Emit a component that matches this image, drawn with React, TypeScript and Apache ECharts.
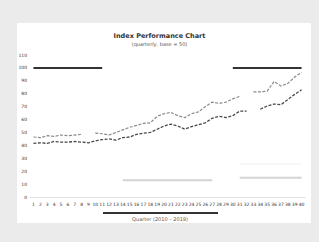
import React, { useEffect, useRef } from "react";
import * as echarts from "echarts";

const categories: string[] = Array.from({ length: 40 }, (_, i) => String(i + 1));

const upperSeries: (number | null)[] = [
  46.5, 46, 47.5, 47, 48, 47.5, 48, 48.5, null, 49.5,
  49, 48, 50, 52, 54, 55.5, 57, 57.5, 62.5, 64.5,
  65.5, 63, 61.5, 64.5, 66, 70, 73.5, 72.5, 73.5, 76,
  78, null, 81.5, 81.5, 82, 89.5, 86, 88, 93, 96.5,
];

const lowerSeries: (number | null)[] = [
  41.5, 42, 41.5, 43, 42.5, 42.5, 43, 42.5, 42, 43.5,
  44.5, 45, 44, 46, 46.5, 48.5, 49.5, 50, 52.5, 55,
  56.5, 55, 52.5, 54.5, 56, 57.5, 61, 62.5, 61.5, 63,
  66.5, 66.5, null, 68, 70.5, 72, 71.5, 75.5, 79.5, 83,
];

// threshold segments: [startIndex, endIndex, value]
const darkSegments: [number, number, number][] = [
  [0, 10, 100],
  [29, 39, 100],
];
const lightSegments: [number, number, number][] = [
  [13, 26, 13],
  [30, 39, 15],
];
const faintSegments: [number, number, number][] = [[30, 39, 25.5]];

const yTicks = { min: 0, max: 110, interval: 10 };

const titleText = "Index Performance Chart";
const subtitleText = "(quarterly, base = 50)";
const footerText = "Quarter (2010 – 2019)";

function segData(seg: [number, number, number]): (number | null)[] {
  return categories.map((_, i) => (i >= seg[0] && i <= seg[1] ? seg[2] : null));
}

export default function App() {
  const ref = useRef<HTMLDivElement>(null);
  useEffect(() => {
    if (!ref.current) return;
    const chart = echarts.init(ref.current, undefined, { renderer: "svg" });
    const segSeries = (segs: [number, number, number][], color: string, width: number, name: string) =>
      segs.map((s, k) => ({
        name: name + k,
        type: "line" as const,
        data: segData(s),
        symbol: "none",
        lineStyle: { color, width },
        silent: true,
        z: 1,
      }));
    chart.setOption({
      animation: false,
      backgroundColor: "#ebebeb",
      graphic: [
        {
          type: "rect",
          shape: { x: 17, y: 23, width: 294, height: 200 },
          style: { fill: "#ffffff" },
          z: -10,
        },
        {
          type: "line",
          shape: { x1: 103, y1: 213, x2: 218, y2: 213 },
          style: { stroke: "#333", lineWidth: 2 },
        },
        {
          type: "text",
          x: 160,
          y: 216,
          style: { text: footerText, fill: "#555", fontSize: 5, align: "center", fontFamily: "DejaVu Sans" },
        },
      ],
      title: {
        text: titleText,
        subtext: subtitleText,
        left: "center",
        top: 27,
        itemGap: 2,
        textStyle: { fontSize: 6.5, fontWeight: "bold", color: "#333", fontFamily: "DejaVu Sans" },
        subtextStyle: { fontSize: 5, color: "#555", fontFamily: "DejaVu Sans" },
      },
      grid: { left: 30, right: 14, top: 55, bottom: 45 },
      xAxis: {
        type: "category",
        data: categories,
        boundaryGap: true,
        axisLine: { lineStyle: { color: "#ddd", type: "dotted" } },
        axisTick: { show: false },
        axisLabel: { fontSize: 4.5, color: "#333", interval: 0, margin: 5, fontFamily: "DejaVu Sans" },
      },
      yAxis: {
        type: "value",
        min: yTicks.min,
        max: yTicks.max,
        interval: yTicks.interval,
        axisLine: { show: false },
        axisTick: { show: false },
        splitLine: { show: false },
        axisLabel: { fontSize: 4.5, color: "#333", margin: 3, fontFamily: "DejaVu Sans" },
      },
      series: [
        ...segSeries(darkSegments, "#333333", 2, "dark"),
        ...segSeries(lightSegments, "#d4d4d4", 2, "light"),
        ...segSeries(faintSegments, "#f0f0f0", 1, "faint"),
        {
          name: "Upper",
          type: "line",
          data: upperSeries,
          symbol: "none",
          lineStyle: { color: "#8a8a8a", width: 1.2, type: [3, 1.5] },
          z: 3,
        },
        {
          name: "Lower",
          type: "line",
          data: lowerSeries,
          symbol: "none",
          lineStyle: { color: "#4a4a4a", width: 1.3, type: [3, 1.5] },
          z: 3,
        },
      ],
    });
    return () => chart.dispose();
  }, []);
  return (
    <div
      ref={ref}
      style={{ position: "fixed", left: 0, top: 0, width: 319, height: 242 }}
    />
  );
}
